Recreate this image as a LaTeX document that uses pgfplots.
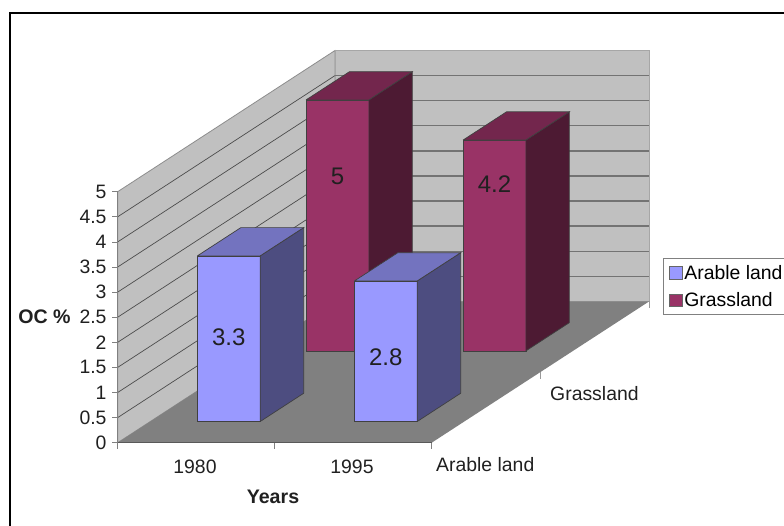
\documentclass[border=0pt]{standalone}
\usepackage{pgfplots}
\pgfplotsset{compat=1.18}
\usepackage{fontspec}
\setmainfont{Liberation Sans}

\definecolor{wallgray}{HTML}{C0C0C0}
\definecolor{floorgray}{HTML}{808080}
\definecolor{arablefront}{HTML}{9999FF}
\definecolor{arabletop}{HTML}{7373BF}
\definecolor{arableside}{HTML}{4D4D80}
\definecolor{grassfront}{HTML}{993366}
\definecolor{grasstop}{HTML}{73264D}
\definecolor{grassside}{HTML}{4D1A33}
\definecolor{inktext}{HTML}{202020}

% One 3D column: {x0}{x1}{y0}{y1}{value}{colour prefix}
\newcommand{\column}[6]{%
  \addplot3[forget plot, draw=black!75, line width=0.7pt, fill=#6front]
    coordinates {(#1,#3,0) (#2,#3,0) (#2,#3,#5) (#1,#3,#5) (#1,#3,0)};
  \addplot3[forget plot, draw=black!75, line width=0.7pt, fill=#6side]
    coordinates {(#2,#3,0) (#2,#4,0) (#2,#4,#5) (#2,#3,#5) (#2,#3,0)};
  \addplot3[forget plot, draw=black!75, line width=0.7pt, fill=#6top]
    coordinates {(#1,#3,#5) (#2,#3,#5) (#2,#4,#5) (#1,#4,#5) (#1,#3,#5)};
}
% One gridline on the side wall and the back wall at height #1
\newcommand{\gridat}[1]{%
  \addplot3[forget plot, draw=black!70, line width=0.7pt]
    coordinates {(0,0,#1) (0,2,#1)};
  \addplot3[forget plot, draw=black!55, line width=1.4pt]
    coordinates {(0,2,#1) (2,2,#1)};
  \addplot3[forget plot, draw=black!50, line width=0.7pt]
    coordinates {(-0.036,0,#1) (0,0,#1)};
  \node[anchor=east, inner sep=0pt, text=inktext] at (axis cs:-0.07,0,#1) {#1};
}

\begin{document}
\begin{tikzpicture}[x=1pt,y=1pt,font=\fontsize{19.4}{23}\selectfont]
\path[use as bounding box] (0,0) rectangle (784,526);
\clip (0,0) rectangle (784,526);
\fill[white] (0,0) rectangle (784,526);
\draw[black, line width=2pt] (10,-5) -- (10,513) -- (790,513);

\begin{axis}[
  at={(117.7pt,83.3pt)}, anchor=origin,
  x={(157pt,0pt)}, y={(108.65pt,70.6pt)}, z={(0pt,50.2pt)},
  xmin=0, xmax=2, ymin=0, ymax=2, zmin=0, zmax=5,
  hide axis, clip=false,
  legend style={
    at={(axis cs:3.473,0,3.68)}, anchor=north west,
    draw=floorgray, line width=1.2pt, fill=white,
    font=\fontsize{19.4}{23}\selectfont,
    inner xsep=5.5pt, inner ysep=4.5pt,
    row sep=8pt, cells={anchor=west},
    /tikz/column 2/.style={column sep=9pt},
  },
  legend image code/.code={%
    \draw[draw=black!60, line width=0.6pt, #1] (0pt,-6.3pt) rectangle (12.7pt,6.3pt);
  },
]
% Walls and floor
\addplot3[forget plot, draw=floorgray!90, line width=0.8pt, fill=wallgray]
  coordinates {(0,0,0) (0,2,0) (0,2,5) (0,0,5) (0,0,0)};
\addplot3[forget plot, draw=black!35, line width=0.8pt, fill=wallgray]
  coordinates {(0,2,0) (2,2,0) (2,2,5) (0,2,5) (0,2,0)};
\addplot3[forget plot, draw=none, fill=floorgray]
  coordinates {(0,0,0) (2,0,0) (2,2,0) (0,2,0) (0,0,0)};

% Value axis: gridlines, ticks and labels
\gridat{0.5}\gridat{1}\gridat{1.5}\gridat{2}\gridat{2.5}
\gridat{3}\gridat{3.5}\gridat{4}\gridat{4.5}
\addplot3[forget plot, draw=black!50, line width=0.7pt]
  coordinates {(-0.036,0,5) (0,0,5)};
\node[anchor=east, inner sep=0pt, text=inktext] at (axis cs:-0.07,0,5) {5};
\addplot3[forget plot, draw=black!50, line width=0.7pt]
  coordinates {(-0.036,0,0) (0,0,0)};
\node[anchor=east, inner sep=0pt, text=inktext] at (axis cs:-0.07,0,0) {0};
\addplot3[forget plot, draw=black!50, line width=1pt]
  coordinates {(0,0,0) (0,0,5)};

% Floor edges and category ticks
\addplot3[forget plot, draw=black!65, line width=1.4pt]
  coordinates {(0,0,0) (2,0,0)};
\addplot3[forget plot, draw=black!50, line width=0.8pt]
  coordinates {(0,0,0) (0,0,-0.13)};
\addplot3[forget plot, draw=black!50, line width=0.8pt]
  coordinates {(1,0,0) (1,0,-0.13)};
\addplot3[forget plot, draw=black!50, line width=0.8pt]
  coordinates {(2,0,0) (2,0,-0.13)};
\addplot3[forget plot, draw=black!40, line width=0.8pt]
  coordinates {(2,1,0) (2,1,-0.13)};
\addplot3[forget plot, draw=black!40, line width=0.8pt]
  coordinates {(2,2,0) (2,2,-0.13)};

% Rear row first, then the front row
\column{0.3}{0.7}{1.3}{1.7}{5}{grass}
\column{1.3}{1.7}{1.3}{1.7}{4.2}{grass}
\column{0.3}{0.7}{0.3}{0.7}{3.3}{arable}
\column{1.3}{1.7}{0.3}{0.7}{2.8}{arable}

% Value labels on the front faces
\node[font=\fontsize{24}{28}\selectfont, text=inktext] at (axis cs:0.5,1.3,3.47) {5};
\node[font=\fontsize{24}{28}\selectfont, text=inktext] at (axis cs:1.5,1.3,3.33) {4.2};
\node[font=\fontsize{24}{28}\selectfont, text=inktext] at (axis cs:0.5,0.3,1.68) {3.3};
\node[font=\fontsize{24}{28}\selectfont, text=inktext] at (axis cs:1.5,0.3,1.28) {2.8};

% Legend entries
\addlegendimage{fill=arablefront}
\addlegendentry{Arable land}
\addlegendimage{fill=grassfront}
\addlegendentry{Grassland}
\end{axis}

% Axis titles and category names
\node[text=inktext] at (195,59) {1980};
\node[text=inktext] at (352,59) {1995};
\node[anchor=west, inner sep=0pt, text=inktext] at (436,61) {Arable land};
\node[anchor=west, inner sep=0pt, text=inktext] at (550,132) {Grassland};
\node[font=\bfseries\fontsize{19.6}{23}\selectfont, text=inktext] at (44.5,209) {OC \%};
\node[font=\bfseries\fontsize{19.6}{23}\selectfont, text=inktext] at (273,29.5) {Years};
\end{tikzpicture}
\end{document}
